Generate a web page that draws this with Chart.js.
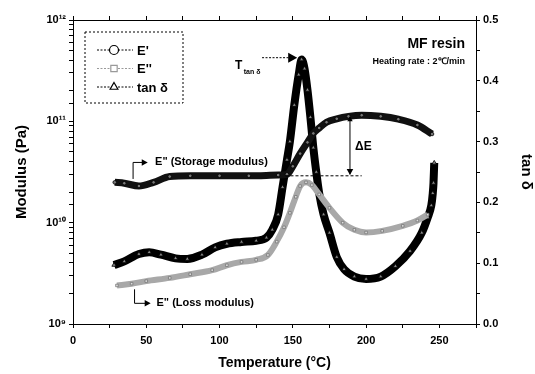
<!DOCTYPE html>
<html>
<head>
<meta charset="utf-8">
<script src="https://cdn.jsdelivr.net/npm/chart.js@4/dist/chart.umd.min.js"></script>
<style>
  html, body { margin: 0; padding: 0; background: #fff; }
</style>
</head>
<body>
<canvas id="dmaChart" width="535" height="374"></canvas>
<script>
// E' (storage modulus), Pa
const tempStorage = [28.5, 35, 45, 55, 66, 80, 100, 120, 140, 146, 150, 155, 160, 164, 168, 173, 180, 188, 197, 210, 222, 235, 245];
const storageModulus = [2.5e10, 2.45e10, 2.3e10, 2.5e10, 2.85e10, 2.9e10, 2.9e10, 2.9e10, 2.95e10, 3.0e10, 3.6e10, 4.8e10, 6.2e10, 7.6e10, 8.6e10, 9.8e10, 1.06e11, 1.12e11, 1.15e11, 1.12e11, 1.05e11, 9.2e10, 7.5e10];

// E'' (loss modulus), Pa
const tempLoss = [30, 40, 50, 66, 80, 95, 105, 115, 125, 133, 139, 144, 148, 152, 155, 159, 163, 168, 175, 184, 192, 200, 211, 225, 235, 242];
const lossModulus = [2.4e9, 2.5e9, 2.65e9, 2.85e9, 3.1e9, 3.4e9, 3.8e9, 4.1e9, 4.3e9, 4.8e9, 6.5e9, 9e9, 1.25e10, 1.8e10, 2.3e10, 2.5e10, 2.35e10, 1.9e10, 1.4e10, 1.0e10, 8.5e9, 8.0e9, 8.3e9, 9.3e9, 1.05e10, 1.2e10];

// tan delta
const tempTan = [28, 35, 45, 52, 60, 70, 78, 88, 97, 105, 115, 125, 132, 136, 140, 143, 146, 148, 151, 154, 156, 158, 160, 162, 164, 166, 168, 171, 175, 180, 185, 192, 200, 210, 220, 230, 238, 242, 244.5, 245.5, 246, 246.5];
const tanDelta = [0.097, 0.103, 0.115, 0.118, 0.114, 0.108, 0.107, 0.114, 0.126, 0.132, 0.135, 0.137, 0.142, 0.155, 0.18, 0.225, 0.27, 0.30, 0.36, 0.41, 0.435, 0.42, 0.385, 0.34, 0.29, 0.25, 0.215, 0.18, 0.15, 0.11, 0.09, 0.078, 0.074, 0.078, 0.095, 0.12, 0.15, 0.175, 0.195, 0.215, 0.232, 0.265];

const modulusTicks = [1e9, 1e10, 1e11, 1e12];
const modulusTickLabels = ['10⁹', '10¹⁰', '10¹¹', '10¹²'];

const toPoints = (xs, ys) => xs.map((t, i) => ({ x: t, y: ys[i] }));
const FONT = "'Liberation Sans', Arial, sans-serif";

const annotations = {
  id: 'annotations',
  afterDatasetsDraw(chart) {
    const { ctx, chartArea: a } = chart;
    const sx = chart.scales.x, sm = chart.scales.y, st = chart.scales.yTan;
    const X = v => sx.getPixelForValue(v);
    const M = v => sm.getPixelForValue(v);
    const T = v => st.getPixelForValue(v);

    const arrowHead = (x, y, dir, size) => {
      ctx.save();
      ctx.setLineDash([]);
      ctx.beginPath();
      if (dir === 'right') { ctx.moveTo(x, y); ctx.lineTo(x - size, y - size * 0.55); ctx.lineTo(x - size, y + size * 0.55); }
      if (dir === 'down') { ctx.moveTo(x, y); ctx.lineTo(x - size * 0.55, y - size); ctx.lineTo(x + size * 0.55, y - size); }
      if (dir === 'up') { ctx.moveTo(x, y); ctx.lineTo(x - size * 0.55, y + size); ctx.lineTo(x + size * 0.55, y + size); }
      ctx.closePath();
      ctx.fillStyle = '#000';
      ctx.fill();
      ctx.restore();
    };

    ctx.save();
    ctx.strokeStyle = '#000';
    ctx.fillStyle = '#000';
    ctx.lineWidth = 1;

    // legend box
    const lx = a.left + 12, ly = a.top + 12, lw = 98, lh = 71;
    ctx.setLineDash([2, 2]);
    ctx.strokeRect(lx, ly, lw, lh);
    const legendRows = [
      { label: "E'", style: 'circle', color: '#000' },
      { label: "E''", style: 'rect', color: '#999' },
      { label: 'tan δ', style: 'triangle', color: '#000' }
    ];
    legendRows.forEach((r, i) => {
      const y = ly + 18 + i * 18.5;
      ctx.setLineDash([2, 1.5]);
      ctx.strokeStyle = r.color;
      ctx.lineWidth = 1;
      ctx.beginPath(); ctx.moveTo(lx + 12, y); ctx.lineTo(lx + 48, y); ctx.stroke();
      ctx.setLineDash([]);
      ctx.fillStyle = '#fff';
      ctx.lineWidth = 1.2;
      Chart.helpers.drawPoint(ctx, { pointStyle: r.style, radius: 4.5, borderWidth: 1.2 }, lx + 29, y);
      ctx.fillStyle = '#000';
      ctx.font = 'bold 13px ' + FONT;
      ctx.textBaseline = 'middle';
      ctx.textAlign = 'left';
      ctx.fillText(r.label, lx + 52, y + 1);
    });
    ctx.strokeStyle = '#000';
    ctx.lineWidth = 1;

    // T tan delta
    ctx.font = 'bold 12px ' + FONT;
    ctx.textAlign = 'right';
    ctx.textBaseline = 'alphabetic';
    ctx.fillText('T', X(115.5), T(0.42));
    ctx.font = 'bold 7px ' + FONT;
    ctx.textAlign = 'left';
    ctx.fillText('tan δ', X(116.5), T(0.412));
    ctx.setLineDash([2, 1.5]);
    ctx.beginPath(); ctx.moveTo(X(129), T(0.438)); ctx.lineTo(X(150), T(0.438)); ctx.stroke();
    arrowHead(X(153), T(0.438), 'right', 9);

    // MF resin / heating rate
    ctx.textAlign = 'right';
    ctx.font = 'bold 14px ' + FONT;
    ctx.fillText('MF resin', X(267.5), T(0.454));
    ctx.font = 'bold 9px ' + FONT;
    ctx.fillText('Heating rate : 2℃/min', X(267.5), T(0.428));

    // E' storage label
    ctx.setLineDash([]);
    ctx.beginPath();
    ctx.moveTo(X(41), M(2.7e10)); ctx.lineTo(X(41), M(3.93e10)); ctx.lineTo(X(48), M(3.93e10));
    ctx.stroke();
    arrowHead(X(51), M(3.93e10), 'right', 6);
    ctx.font = 'bold 11px ' + FONT;
    ctx.textAlign = 'left';
    ctx.textBaseline = 'middle';
    ctx.fillText('E" (Storage modulus)', X(56), M(3.93e10));

    // E'' loss label
    ctx.beginPath();
    ctx.moveTo(X(42), M(2.2e9)); ctx.lineTo(X(42), M(1.6e9)); ctx.lineTo(X(50), M(1.6e9));
    ctx.stroke();
    arrowHead(X(53), M(1.6e9), 'right', 6);
    ctx.fillText('E" (Loss modulus)', X(57), M(1.6e9));

    // delta E
    ctx.setLineDash([3, 2]);
    ctx.beginPath(); ctx.moveTo(X(145), M(2.9e10)); ctx.lineTo(X(197), M(2.9e10)); ctx.stroke();
    ctx.setLineDash([]);
    ctx.beginPath(); ctx.moveTo(X(189), M(1.1e11)); ctx.lineTo(X(189), M(3.0e10)); ctx.stroke();
    arrowHead(X(189), M(2.95e10), 'down', 6);
    arrowHead(X(189), M(1.12e11), 'up', 5);
    ctx.font = 'bold 12px ' + FONT;
    ctx.fillText('ΔE', X(192.5), M(5.6e10));
    ctx.restore();
  }
};

new Chart(document.getElementById('dmaChart'), {
  type: 'line',
  data: {
    datasets: [
      {
        label: "E'",
        data: toPoints(tempStorage, storageModulus),
        yAxisID: 'y',
        borderColor: '#111',
        borderWidth: 7,
        pointStyle: 'circle',
        pointRadius: 1.8,
        pointBorderWidth: 0.8,
        pointBorderColor: '#000',
        pointBackgroundColor: '#777',
        cubicInterpolationMode: 'monotone'
      },
      {
        label: "E''",
        data: toPoints(tempLoss, lossModulus),
        yAxisID: 'y',
        borderColor: '#a8a8a8',
        borderWidth: 6,
        pointStyle: 'rect',
        pointRadius: 1.8,
        pointBorderWidth: 0.8,
        pointBorderColor: '#777',
        pointBackgroundColor: '#ddd',
        cubicInterpolationMode: 'monotone'
      },
      {
        label: 'tan δ',
        data: toPoints(tempTan, tanDelta),
        yAxisID: 'yTan',
        borderColor: '#000',
        borderWidth: 8,
        pointStyle: 'triangle',
        pointRadius: 2.5,
        pointBorderWidth: 0.8,
        pointBorderColor: '#000',
        pointBackgroundColor: '#888',
        cubicInterpolationMode: 'monotone'
      }
    ]
  },
  plugins: [annotations],
  options: {
    responsive: false,
    animation: false,
    layout: { padding: 0 },
    plugins: {
      legend: { display: false },
      tooltip: { enabled: false }
    },
    scales: {
      x: {
        type: 'linear',
        position: 'bottom',
        min: 0,
        max: 275,
        afterFit: s => { s.height = 50; },
        ticks: {
          stepSize: 25,
          autoSkip: false,
          maxRotation: 0,
          color: '#000',
          padding: 6,
          font: { family: FONT, size: 11, weight: 'bold' },
          callback: v => (v % 50 === 0 && v <= 250 ? String(v) : '')
        },
        grid: { drawOnChartArea: false, tickLength: 4, color: '#000' },
        border: { color: '#000', width: 1 },
        title: {
          display: true,
          text: 'Temperature (°C)',
          color: '#000',
          padding: { top: 0, bottom: 2 },
          font: { family: FONT, size: 14, weight: 'bold' }
        }
      },
      xTop: {
        type: 'linear',
        position: 'top',
        min: 0,
        max: 275,
        afterFit: s => { s.height = 20; },
        ticks: { stepSize: 25, autoSkip: false, callback: () => '' },
        grid: { drawOnChartArea: false, tickLength: 4, color: '#000' },
        border: { color: '#000', width: 1 }
      },
      y: {
        type: 'logarithmic',
        position: 'left',
        min: 1e9,
        max: 1e12,
        afterFit: s => { s.width = 73; },
        ticks: {
          autoSkip: false,
          color: '#000',
          padding: 3,
          font: { family: FONT, size: 11, weight: 'bold' },
          callback: v => {
            const i = modulusTicks.indexOf(v);
            return i >= 0 ? modulusTickLabels[i] : '';
          }
        },
        grid: { drawOnChartArea: false, tickLength: 4, color: '#000' },
        border: { color: '#000', width: 1 },
        title: {
          display: true,
          text: 'Modulus (Pa)',
          color: '#000',
          padding: { top: 13, bottom: 0 },
          font: { family: FONT, size: 15, weight: 'bold' }
        }
      },
      yTan: {
        type: 'linear',
        position: 'right',
        min: 0,
        max: 0.5,
        afterFit: s => { s.width = 59; },
        ticks: {
          stepSize: 0.05,
          autoSkip: false,
          color: '#000',
          padding: 3,
          font: { family: FONT, size: 11, weight: 'bold' },
          callback: v => {
            const r = Math.round(v * 100);
            return r % 10 === 0 ? (r / 100).toFixed(1) : '';
          }
        },
        grid: { drawOnChartArea: false, tickLength: 4, color: '#000' },
        border: { color: '#000', width: 1 },
        title: {
          display: true,
          text: 'tan δ',
          color: '#000',
          padding: { top: 0, bottom: 0 },
          font: { family: FONT, size: 15, weight: 'bold' }
        }
      }
    }
  }
});
</script>
</body>
</html>
